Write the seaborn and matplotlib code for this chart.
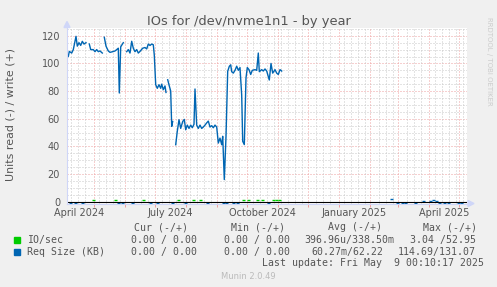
import numpy as np
import pandas as pd
import matplotlib
matplotlib.use("Agg")
import matplotlib.pyplot as plt
import seaborn as sns
from matplotlib.patches import Polygon, Rectangle
from matplotlib.lines import Line2D

# ---------------- data ----------------
graph_start = "2024-04-04"
graph_days = 400
title = "IOs for /dev/nvme1n1 - by year"
y_label = "Units read (-) / write (+)"
y_ticks = [0, 20, 40, 60, 80, 100, 120]
x_labels = ["April 2024", "July 2024", "October 2024", "January 2025", "April 2025"]
x_label_dates = ["2024-04-16", "2024-07-16", "2024-10-16", "2025-01-16", "2025-04-16"]

nan = np.nan
# Req Size (KB), write (+): day offset from graph start, value
req_days = [0, 1.3, 2.3, 4.7, 6.3, 9, 10.3, 12, 13.7, 15.3, 17, 19,
            20.5,
            22.3, 23.7, 26.3, 28, 29.7, 31.3, 33, 35.3,
            36.3,
            37.3, 39, 41.3, 43, 45.7, 48, 49.7, 51.3, 52.3, 53.7, 56.3,
            58,
            59.7, 61.3, 63, 64.7, 66.3, 68, 69.7, 71.3, 73, 75.7, 78, 79.7, 81.3, 83,
            84.7, 86.3, 87.3, 88.7, 90.3, 92, 93.7, 94.7, 96.3, 98, 99,
            99.8,
            100.7, 102.3, 103.7, 104.7, 105.7,
            107,
            108.7, 110.3, 112, 113.7, 115.7, 117.3, 118.7, 120.3, 122, 123.7, 125.3,
            127, 128, 129.7, 131.3, 133, 134.7, 136.3, 138, 139.7, 141.3, 143, 144.7,
            146.3, 148, 149.7, 151.3, 153, 154.7, 155.7, 157.3, 159, 160.7, 162.3,
            163.7, 164.7, 166.3, 168, 169.7, 171.3, 173, 174.7, 175.7, 177.3, 179,
            180.3, 182, 183.7, 185.3, 188, 189.7, 191.3, 192.3, 194.7, 196.3, 198,
            199.7, 202.3, 204, 205.7, 208, 209.7, 211.3, 213, 214.7]
req_kb = [107.5, 105, 108.7, 107.5, 110, 119.6, 112.5, 115, 113, 116, 114, 115,
          nan,
          114, 110, 110, 108.5, 110, 108.5, 109, 107.5,
          nan,
          118.9, 112.5, 109, 108, 108.5, 109, 110, 111, 78.6, 112, 115,
          nan,
          108.5, 110, 107.5, 116, 111, 108.5, 110, 107.5, 108.7, 111, 111.5, 110.5, 114, 113,
          114, 113.5, 106, 84.6, 82, 84.6, 82, 85, 81, 83.7, 79,
          nan,
          88.2, 83.7, 80, 54.5, 58,
          nan,
          41.2, 51, 59.3, 53, 58, 59.5, 52, 55.4, 53, 55.4, 53.5,
          56, 81.5, 55.4, 53, 55.4, 53, 54, 55.4, 57, 58.3, 54, 55,
          53.5, 55.4, 54, 42.4, 46, 41.2, 47.3, 16, 47, 94.3, 97.9,
          99, 94, 93, 95, 98, 95, 97, 77, 43.7, 41.3, 89.5,
          97, 95.5, 92, 95, 95.5, 95, 107.5, 94, 95.5, 94.5, 96,
          94.5, 88, 100, 93, 95.5, 93, 92, 95.5, 94.5]

# IO/sec write (+) small blips
io_blip_days = [26, 48, 76, 111, 126, 133, 176, 181, 190, 195, 206, 209, 212]
io_blip_vals = [1.1, 1.0, 1.0, 1.1, 1.0, 1.0, 1.1, 1.2, 1.0, 1.0, 1.2, 1.2, 1.2]
# Req Size read (-) small blips
read_blip_days = [3, 8, 15, 51, 55, 65, 83, 90, 105, 118, 140, 156, 159, 166, 170, 201]
read_blip_vals = [-1.0, -1.0, -1.0, -1.0, -0.8, -1.0, -1.0, -1.0, -1.0, -0.9, -1.0,
                  -1.0, -1.0, -1.0, -0.9, -1.0]
# late Req Size blips (2025)
late_blip_days = [324, 330, 335, 338, 348, 356, 363, 366, 369, 372, 377, 381, 391, 394]
late_blip_vals = [1.8, -0.9, -0.9, -0.9, -0.9, 0.8, 0.7, 1.0, 0.8, -0.9, -0.9, -0.9, -0.9, -0.8]

# ---------------- styling ----------------
W, H = 497, 287
BG = "#F0F0F0"
FONT_C = "#555555"
AXIS_C = "#CFD6F8"
MGRID = "#EFA0A0"
GRID = "#C8C8C8"
BLUE = "#0066B3"
GREEN = "#00CC00"

plt.rcParams["font.family"] = ["DejaVu Sans"]
plt.rcParams["lines.scale_dashes"] = False

fig = plt.figure(figsize=(W / 100, H / 100), dpi=100, facecolor=BG)
left, right, top, bottom = 67, 467, 28.3, 203.5
ax = fig.add_axes([left / W, 1 - bottom / H, (right - left) / W, (bottom - top) / H])
ax.set_facecolor("white")
ax.set_xlim(0, graph_days)
ax.set_ylim(-1.3, 125.4)
for s in ax.spines.values():
    s.set_visible(False)

start = pd.Timestamp(graph_start)
end = start + pd.Timedelta(days=graph_days)
month_days = [(d - start).days for d in pd.date_range(start, end, freq="MS")]
week_days = [(d - start).days for d in pd.date_range(start, end, freq="W-MON")]
label_days = [(pd.Timestamp(d) - start).days for d in x_label_dates]

dot = (0, (0.72, 1.44))
for v in range(5, 126, 5):
    ax.axhline(v, color=MGRID if v % 20 == 0 else GRID, lw=0.72, ls=dot, zorder=1)
for d in week_days:
    if min(abs(d - m) for m in month_days) > 2:
        ax.axvline(d, color=GRID, lw=0.72, ls=dot, zorder=1)
for d in month_days:
    ax.axvline(d, color=MGRID, lw=0.72, ls=dot, zorder=1)

# main line
df = pd.DataFrame({"day": req_days, "kb": req_kb})
df["seg"] = df["kb"].isna().cumsum()
df = df.dropna()
sns.lineplot(data=df, x="day", y="kb", units="seg", estimator=None, sort=False,
             color=BLUE, linewidth=1.0, ax=ax, legend=False, zorder=3)

# small blips near zero
ax.hlines(io_blip_vals, np.array(io_blip_days) - 1, np.array(io_blip_days) + 1.5,
          color=GREEN, lw=1.0, zorder=3)
ax.hlines(read_blip_vals, np.array(read_blip_days) - 1, np.array(read_blip_days) + 1.5,
          color=BLUE, lw=1.0, zorder=3)
ax.hlines(late_blip_vals, np.array(late_blip_days) - 1, np.array(late_blip_days) + 1.5,
          color=BLUE, lw=1.0, zorder=3)
ax.axhline(0, color="black", lw=0.8, zorder=4)

ax.set_xlabel("")
ax.set_ylabel("")
ax.set_xticks(month_days)
ax.set_xticklabels([])
ax.set_xticks(label_days, minor=True)
ax.set_xticklabels(x_labels, minor=True)
ax.tick_params(axis="x", which="major", length=2.5, width=0.72, color=MGRID, direction="out")
ax.tick_params(axis="x", which="minor", length=0, pad=3.0, labelsize=7, labelcolor=FONT_C)
ax.set_yticks(y_ticks)
ax.set_yticklabels([str(t) for t in y_ticks])
ax.tick_params(axis="y", length=0, pad=5, labelsize=7, labelcolor=FONT_C)


def fx(x):
    return x / W


def fy(y):
    return 1 - y / H


# axes lines with arrows
fig.lines.append(Line2D([fx(left), fx(left)], [fy(bottom), fy(24)], color=AXIS_C, lw=0.8,
                        transform=fig.transFigure))
fig.lines.append(Line2D([fx(left), fx(470)], [fy(bottom), fy(bottom)], color=AXIS_C, lw=0.8,
                        transform=fig.transFigure))
fig.patches.append(Polygon([[fx(left), fy(21.5)], [fx(left - 3), fy(27.5)], [fx(left + 3), fy(27.5)]],
                           closed=True, color=AXIS_C, transform=fig.transFigure))
fig.patches.append(Polygon([[fx(474), fy(bottom)], [fx(468), fy(bottom - 3)], [fx(468), fy(bottom + 3)]],
                           closed=True, color=AXIS_C, transform=fig.transFigure))

# texts
fig.text(fx(248.5), fy(25), title, ha="center", va="baseline", fontsize=9.4, color=FONT_C)
fig.text(fx(11), fy(114), y_label, ha="center", va="center", rotation=90, fontsize=7.9, color=FONT_C)
fig.text(fx(488.5), fy(61), "RRDTOOL / TOBI OETIKER", ha="center", va="center", rotation=270,
         fontsize=5, color="#CCCCCC")

mono = dict(family="DejaVu Sans Mono", fontsize=7.1, color=FONT_C, va="baseline", ha="left")
hdr_y, r1_y, r2_y, lu_y = 230.5, 243, 255.2, 266.5
fig.text(fx(134.3), fy(hdr_y), "Cur (-/+)", **mono)
fig.text(fx(231), fy(hdr_y), "Min (-/+)", **mono)
fig.text(fx(327.7), fy(hdr_y), "Avg (-/+)", **mono)
fig.text(fx(422.7), fy(hdr_y), "Max (-/+)", **mono)

fig.patches.append(Rectangle((fx(14), fy(243)), 6 / W, 6 / H, color=GREEN, transform=fig.transFigure))
fig.patches.append(Rectangle((fx(14), fy(255.2)), 6 / W, 6 / H, color=BLUE, transform=fig.transFigure))

fig.text(fx(26.7), fy(r1_y), "IO/sec", **mono)
fig.text(fx(131), fy(r1_y), "0.00 / 0.00", **mono)
fig.text(fx(224.3), fy(r1_y), "0.00 / 0.00", **mono)
fig.text(fx(304), fy(r1_y), "396.96u/338.50m", **mono)
fig.text(fx(410), fy(r1_y), "3.04 /52.95", **mono)

fig.text(fx(26.7), fy(r2_y), "Req Size (KB)", **mono)
fig.text(fx(131), fy(r2_y), "0.00 / 0.00", **mono)
fig.text(fx(224.3), fy(r2_y), "0.00 / 0.00", **mono)
fig.text(fx(311.7), fy(r2_y), "60.27m/62.22", **mono)
fig.text(fx(398), fy(r2_y), "114.69/131.07", **mono)

fig.text(fx(261.7), fy(lu_y), "Last update: Fri May  9 00:10:17 2025", **mono)
fig.text(fx(248.8), fy(279), "Munin 2.0.49", ha="center", va="baseline", fontsize=6, color="#BBBBBB")

fig.savefig("out.png", dpi=100, facecolor=BG)
